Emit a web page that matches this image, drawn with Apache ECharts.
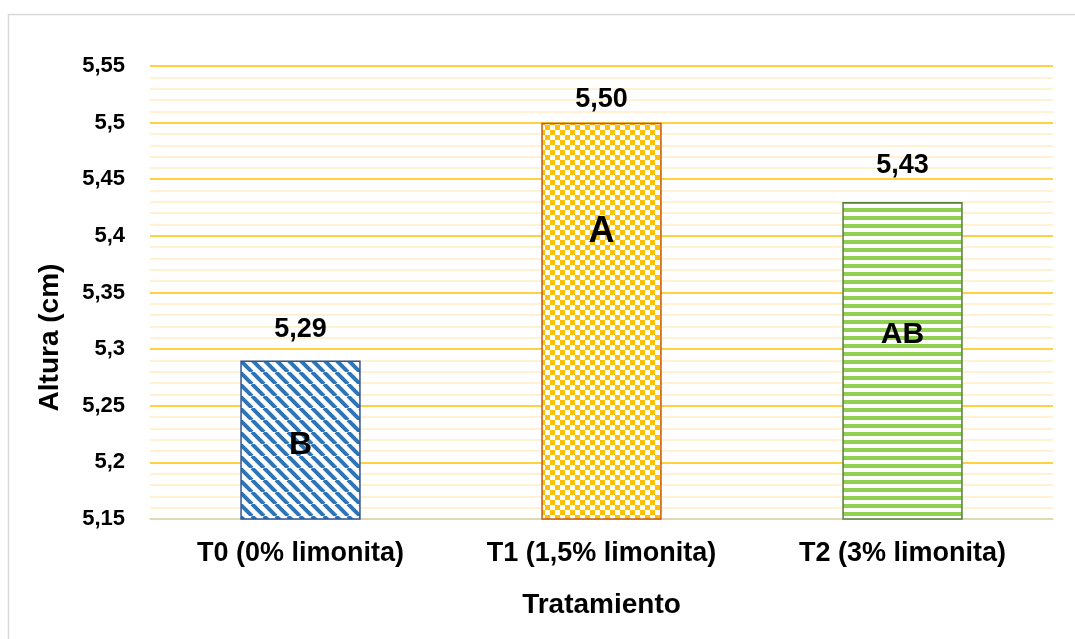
<!DOCTYPE html>
<html>
<head>
<meta charset="utf-8">
<script src="https://cdn.jsdelivr.net/npm/echarts@6/dist/echarts.min.js"></script>
<style>
  html, body { margin: 0; padding: 0; background: #fff; }
  #chart { width: 1075px; height: 639px; }
</style>
</head>
<body>
<div id="chart"></div>
<script>
// data
var categories = ['T0 (0% limonita)', 'T1 (1,5% limonita)', 'T2 (3% limonita)'];
var alturas = [5.29, 5.50, 5.43];
var letters = ['B', 'A', 'AB'];
var letterLevels = [5.215, 5.403, 5.313];   // where the letters sit, in axis units
var yTicks = ['5,15', '5,2', '5,25', '5,3', '5,35', '5,4', '5,45', '5,5', '5,55'];

var font = '"Liberation Sans", Arial, sans-serif';
var letterSizes = [32, 36, 30];
var labelGaps = [17, 10, 23];   // the value labels were placed by hand in the original

// small repeating fills like Excel's pattern fills
function makePattern(w, h, draw) {
  var c = document.createElement('canvas');
  c.width = w; c.height = h;
  var ctx = c.getContext('2d');
  ctx.fillStyle = '#fff';
  ctx.fillRect(0, 0, w, h);
  draw(ctx);
  return { image: c, repeat: 'repeat' };
}

var diagBlue = makePattern(12, 12, function (ctx) {
  ctx.strokeStyle = '#2E75B6';
  ctx.lineWidth = 4;
  [-12, 0, 12].forEach(function (o) {
    ctx.beginPath();
    ctx.moveTo(o, 0);
    ctx.lineTo(o + 12, 12);
    ctx.stroke();
  });
});

var checkOrange = makePattern(10, 10, function (ctx) {
  ctx.fillStyle = '#FFC000';
  ctx.fillRect(0, 0, 5, 5);
  ctx.fillRect(5, 5, 5, 5);
});

var stripeGreen = makePattern(8, 8, function (ctx) {
  ctx.fillStyle = '#92D050';
  ctx.fillRect(0, 0, 8, 4);
});

var fills = [diagBlue, checkOrange, stripeGreen];
var borders = ['#2F5597', '#C55A11', '#538135'];

function fmt(v) {
  return v.toFixed(2).replace('.', ',');
}

var chart = echarts.init(document.getElementById('chart'));

chart.setOption({
  animation: false,
  backgroundColor: '#fff',
  graphic: [{
    type: 'rect',
    shape: { x: 8.5, y: 14.5, width: 1200, height: 800 },
    style: { fill: 'none', stroke: '#D9D9D9', lineWidth: 1.5 },
    silent: true
  }],
  grid: { left: 150, right: 22, top: 66, bottom: 120 },
  xAxis: {
    type: 'category',
    data: categories,
    name: 'Tratamiento',
    nameLocation: 'middle',
    nameGap: 72,
    nameTextStyle: { fontFamily: font, fontWeight: 'bold', fontSize: 28, color: '#000' },
    axisLine: { lineStyle: { color: '#D9D9D9', width: 1.5 } },
    axisTick: { show: false },
    axisLabel: { margin: 21, fontFamily: font, fontWeight: 'bold', fontSize: 27, color: '#000' }
  },
  yAxis: {
    type: 'value',
    min: 5.15,
    max: 5.55,
    interval: 0.05,
    name: 'Altura (cm)',
    nameLocation: 'middle',
    nameGap: 86,
    nameTextStyle: { fontFamily: font, fontWeight: 'bold', fontSize: 28, color: '#000', padding: [0, 90, 0, 0] },
    axisLine: { show: false },
    axisTick: { show: false },
    axisLabel: {
      margin: 25,
      fontFamily: font, fontWeight: 'bold', fontSize: 22, color: '#000',
      formatter: function (v) {
        var i = Math.round((v - 5.15) / 0.05);
        return yTicks[i] !== undefined ? yTicks[i] : '';
      }
    },
    splitLine: { lineStyle: { color: '#FFC000', width: 1.5 } },
    minorTick: { show: false, splitNumber: 5 },
    minorSplitLine: { show: true, lineStyle: { color: '#FFEDC2', width: 1.5 } }
  },
  series: [
    {
      type: 'bar',
      barWidth: '40%',
      data: alturas.map(function (v, i) {
        return {
          value: v,
          itemStyle: { color: fills[i], borderColor: borders[i], borderWidth: 1.5 },
          label: {
            show: true,
            position: 'top',
            distance: labelGaps[i],
            fontFamily: font, fontWeight: 'bold', fontSize: 27, color: '#000'
          }
        };
      }),
      label: {
        show: true,
        formatter: function (p) { return fmt(p.value); }
      },
      z: 2
    },
    {
      type: 'scatter',
      symbolSize: 1,
      itemStyle: { color: 'rgba(0,0,0,0)' },
      emphasis: { disabled: true },
      data: letterLevels.map(function (v, i) {
        return {
          value: [i, v],
          label: {
            show: true,
            position: 'inside',
            fontFamily: font, fontWeight: 'bold', fontSize: letterSizes[i],
            color: '#000', opacity: 1, textBorderWidth: 0
          }
        };
      }),
      label: {
        show: true,
        formatter: function (p) { return letters[p.dataIndex]; }
      },
      z: 5
    }
  ]
});
</script>
</body>
</html>
